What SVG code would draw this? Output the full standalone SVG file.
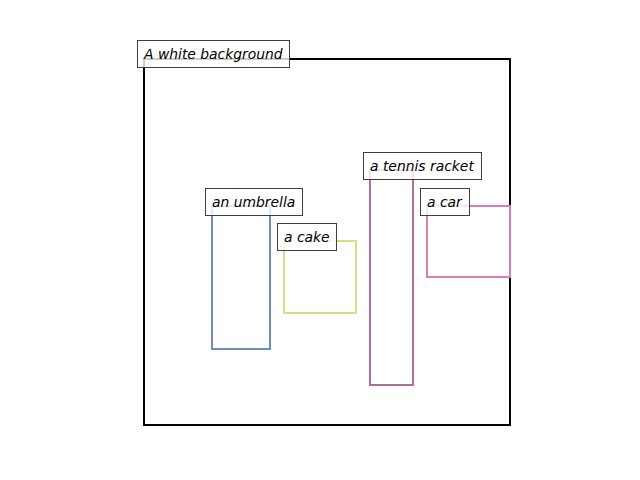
<svg xmlns="http://www.w3.org/2000/svg" width="640" height="480" viewBox="0 0 640 480">
<style>
.lbl rect{fill:#ffffff;fill-opacity:0.8;stroke:#3f3f3f;stroke-width:1}
.lbl text{font-family:"DejaVu Sans",sans-serif;font-style:oblique;font-size:13.89px;fill:#000}
.box{fill:none;stroke-width:2}
</style>
<rect width="640" height="480" fill="#ffffff"/>
<g id="background">
<rect x="144" y="59" width="366" height="366" fill="none" stroke="#000" stroke-width="2"/>
</g>
<g id="umbrella"><rect class="box" x="212" y="206" width="58" height="143" stroke="#6c8ebf"/></g>
<g id="cake"><rect class="box" x="284" y="241" width="72" height="72" stroke="#d6e083"/></g>
<g id="racket"><rect class="box" x="370" y="170" width="43" height="215" stroke="#b36e98"/></g>
<g id="car"><rect class="box" x="427" y="206" width="83" height="71" stroke="#dc7cb4"/></g>
<g id="labels" class="lbl">
<g id="label-background"><rect x="137.5" y="40.5" width="152" height="27"/><text x="144" y="59">A white background</text></g>
<g id="label-umbrella"><rect x="205.5" y="188.5" width="97" height="27"/><text x="212" y="207">an umbrella</text></g>
<g id="label-cake"><rect x="277.5" y="223.5" width="59" height="27"/><text x="284" y="242">a cake</text></g>
<g id="label-racket"><rect x="363.5" y="152.5" width="118" height="27"/><text x="370" y="171">a tennis racket</text></g>
<g id="label-car"><rect x="420.5" y="188.5" width="49" height="27"/><text x="427" y="207">a car</text></g>
</g>
</svg>
